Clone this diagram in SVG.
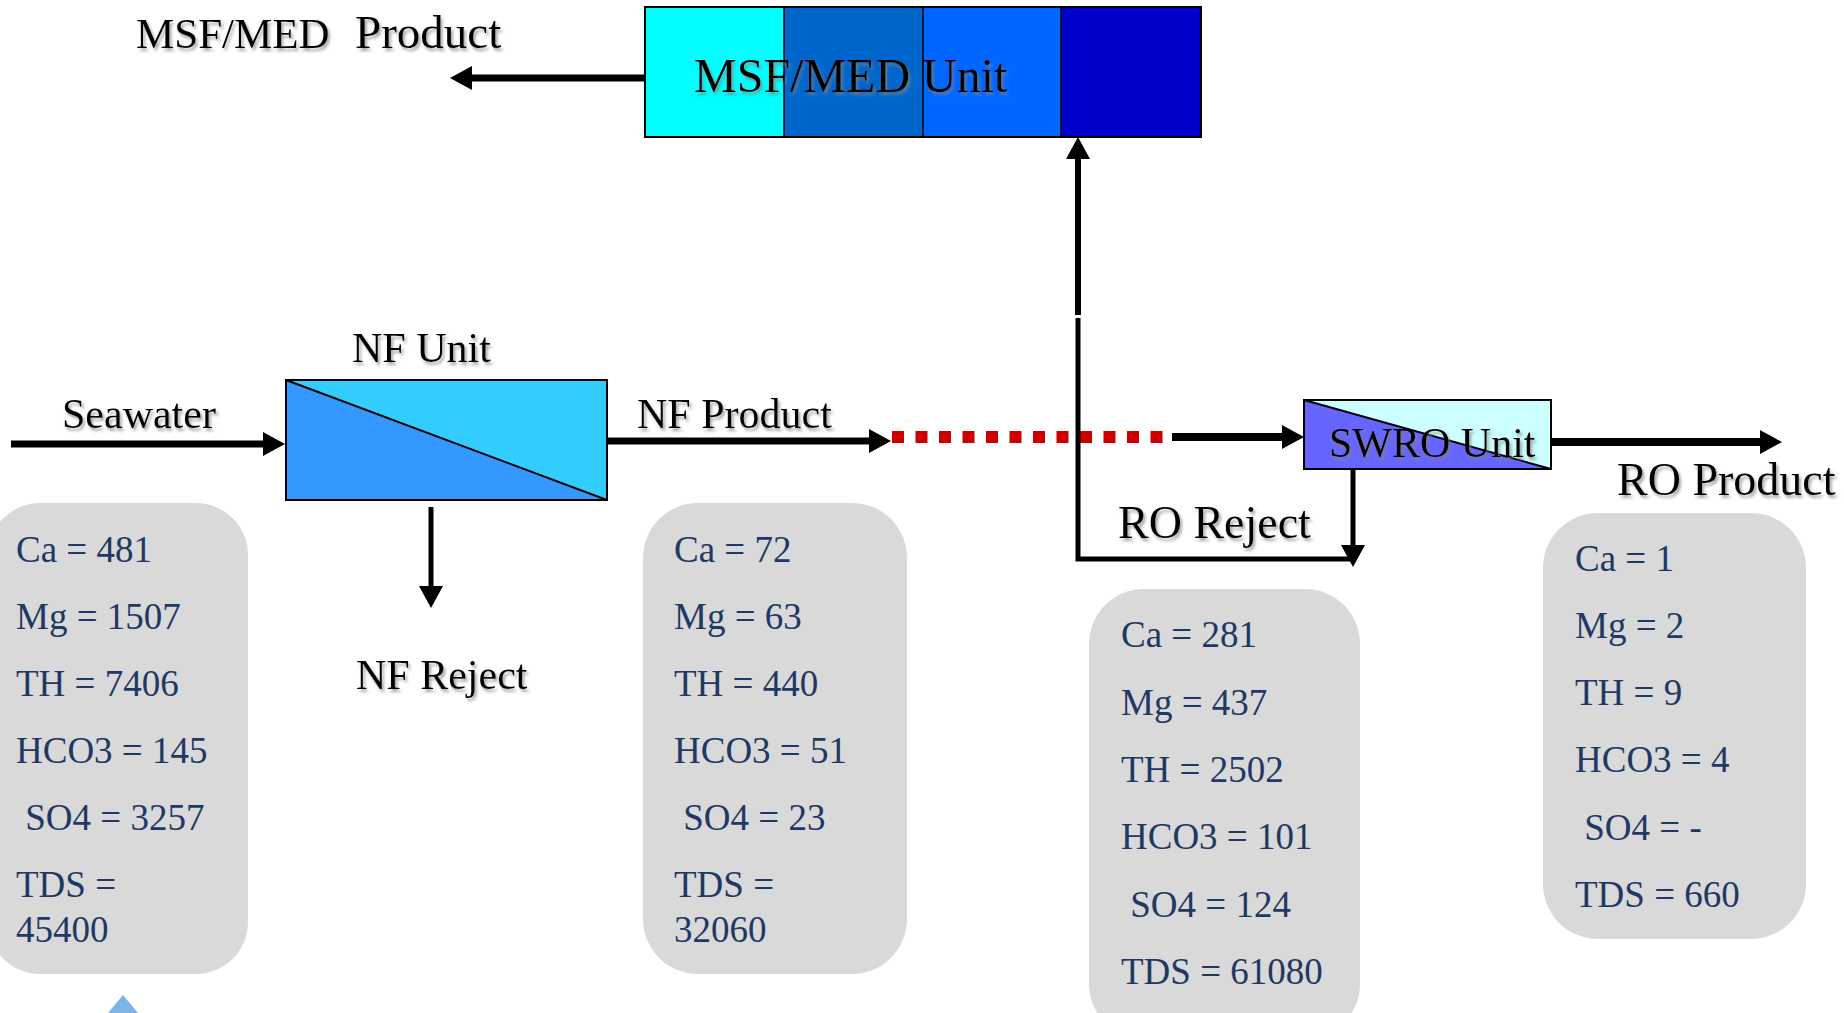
<svg xmlns="http://www.w3.org/2000/svg" width="1844" height="1013" viewBox="0 0 1844 1013">
<style>
.lbl{font-family:"Liberation Serif","Times New Roman",serif;font-size:42px;fill:#000;filter:url(#sh)}
.big{font-size:46px}
.dat{font-family:"Liberation Serif","Times New Roman",serif;font-size:37px;fill:#1F3864;white-space:pre}
.box{fill:#D9D9D9}
.ln{stroke:#000;fill:none}
</style>
<defs>
<filter id="sh" x="-10%" y="-20%" width="130%" height="150%">
<feDropShadow dx="2" dy="3" stdDeviation="1.5" flood-color="#808080" flood-opacity="0.7"/>
</filter>
<marker id="ah" markerUnits="userSpaceOnUse" viewBox="0 -12 22 24" refX="0" refY="0" markerWidth="22" markerHeight="24" orient="auto">
<path d="M0,-12 L22,0 L0,12 z" fill="#000"/>
</marker>
</defs>

<g id="connectors">
<line class="ln" x1="645" y1="78" x2="472" y2="78" stroke-width="7" marker-end="url(#ah)"/>
<line class="ln" x1="11" y1="444" x2="263" y2="444" stroke-width="7" marker-end="url(#ah)"/>
<line class="ln" x1="607" y1="441" x2="869" y2="441" stroke-width="7" marker-end="url(#ah)"/>
<line x1="892" y1="437" x2="1172" y2="437" stroke="#CC0000" stroke-width="12" stroke-dasharray="12 11.5"/>
<line class="ln" x1="1172" y1="437" x2="1282" y2="437" stroke-width="8" marker-end="url(#ah)"/>
<line class="ln" x1="1551" y1="442" x2="1760" y2="442" stroke-width="8" marker-end="url(#ah)"/>
<line class="ln" x1="431" y1="507" x2="431" y2="586" stroke-width="5" marker-end="url(#ah)"/>
<line class="ln" x1="1353" y1="469" x2="1353" y2="545" stroke-width="5" marker-end="url(#ah)"/>
<polyline class="ln" points="1078,318 1078,559 1353,559" stroke-width="5"/>
<line class="ln" x1="1078" y1="315" x2="1078" y2="159" stroke-width="6" marker-end="url(#ah)"/>
</g>

<g id="msf-unit">
<rect x="645" y="7" width="139" height="130" fill="#00FFFF"/>
<rect x="784" y="7" width="139" height="130" fill="#0066CC"/>
<rect x="923" y="7" width="138" height="130" fill="#0066FF"/>
<rect x="1061" y="7" width="140" height="130" fill="#0000CC"/>
<rect x="645" y="7" width="556" height="130" fill="none" stroke="#000" stroke-width="2"/>
<line x1="784" y1="7" x2="784" y2="137" stroke="#000" stroke-width="1.5"/>
<line x1="923" y1="7" x2="923" y2="137" stroke="#000" stroke-width="1.5"/>
<line x1="1061" y1="7" x2="1061" y2="137" stroke="#000" stroke-width="1.5"/>
<text class="lbl" x="694" y="92" style="font-size:48px">MSF/MED Unit</text>
</g>

<g id="msf-product">
<text class="lbl" x="136" y="48" style="font-size:43px">MSF/MED</text>
<text class="lbl" x="355" y="48" style="font-size:47px">Product</text>
</g>

<g id="nf-unit">
<polygon points="286,380 607,500 286,500" fill="#3399FF"/>
<polygon points="286,380 607,380 607,500" fill="#33CCFF"/>
<rect x="286" y="380" width="321" height="120" fill="none" stroke="#000" stroke-width="2"/>
<line x1="286" y1="380" x2="607" y2="500" stroke="#000" stroke-width="2"/>
<text class="lbl" x="352" y="362">NF Unit</text>
</g>

<g id="swro-unit">
<polygon points="1304,400 1551,469 1304,469" fill="#6666FF"/>
<polygon points="1304,400 1551,400 1551,469" fill="#CCFFFF"/>
<rect x="1304" y="400" width="247" height="69" fill="none" stroke="#000" stroke-width="2"/>
<line x1="1304" y1="400" x2="1551" y2="469" stroke="#000" stroke-width="2"/>
<text class="lbl" x="1329" y="457">SWRO Unit</text>
</g>

<g id="labels">
<text class="lbl" x="62" y="428">Seawater</text>
<text class="lbl" x="637" y="428">NF Product</text>
<text class="lbl" x="356" y="689">NF Reject</text>
<text class="lbl big" x="1118" y="538">RO Reject</text>
<text class="lbl big" x="1617" y="495">RO Product</text>
</g>

<g id="seawater-data">
<rect class="box" x="-12" y="503" width="260" height="471" rx="52" ry="52"/>
<text class="dat" x="16" y="562">Ca = 481</text>
<text class="dat" x="16" y="629">Mg = 1507</text>
<text class="dat" x="16" y="696">TH = 7406</text>
<text class="dat" x="16" y="763">HCO3 = 145</text>
<text class="dat" x="16" y="830"> SO4 = 3257</text>
<text class="dat" x="16" y="897">TDS =</text>
<text class="dat" x="16" y="942">45400</text>
</g>

<g id="nf-product-data">
<rect class="box" x="643" y="503" width="264" height="471" rx="55" ry="55"/>
<text class="dat" x="674" y="562">Ca = 72</text>
<text class="dat" x="674" y="629">Mg = 63</text>
<text class="dat" x="674" y="696">TH = 440</text>
<text class="dat" x="674" y="763">HCO3 = 51</text>
<text class="dat" x="674" y="830"> SO4 = 23</text>
<text class="dat" x="674" y="897">TDS =</text>
<text class="dat" x="674" y="942">32060</text>
</g>

<g id="ro-reject-data">
<rect class="box" x="1089" y="589" width="271" height="450" rx="55" ry="55"/>
<text class="dat" x="1121" y="647">Ca = 281</text>
<text class="dat" x="1121" y="715">Mg = 437</text>
<text class="dat" x="1121" y="782">TH = 2502</text>
<text class="dat" x="1121" y="849">HCO3 = 101</text>
<text class="dat" x="1121" y="917"> SO4 = 124</text>
<text class="dat" x="1121" y="984">TDS = 61080</text>
</g>

<g id="ro-product-data">
<rect class="box" x="1543" y="513" width="263" height="426" rx="55" ry="55"/>
<text class="dat" x="1575" y="571">Ca = 1</text>
<text class="dat" x="1575" y="638">Mg = 2</text>
<text class="dat" x="1575" y="705">TH = 9</text>
<text class="dat" x="1575" y="772">HCO3 = 4</text>
<text class="dat" x="1575" y="840"> SO4 = -</text>
<text class="dat" x="1575" y="907">TDS = 660</text>
</g>

<polygon points="108,1013 123,995 138,1013" fill="#7FB2E5"/>
</svg>
